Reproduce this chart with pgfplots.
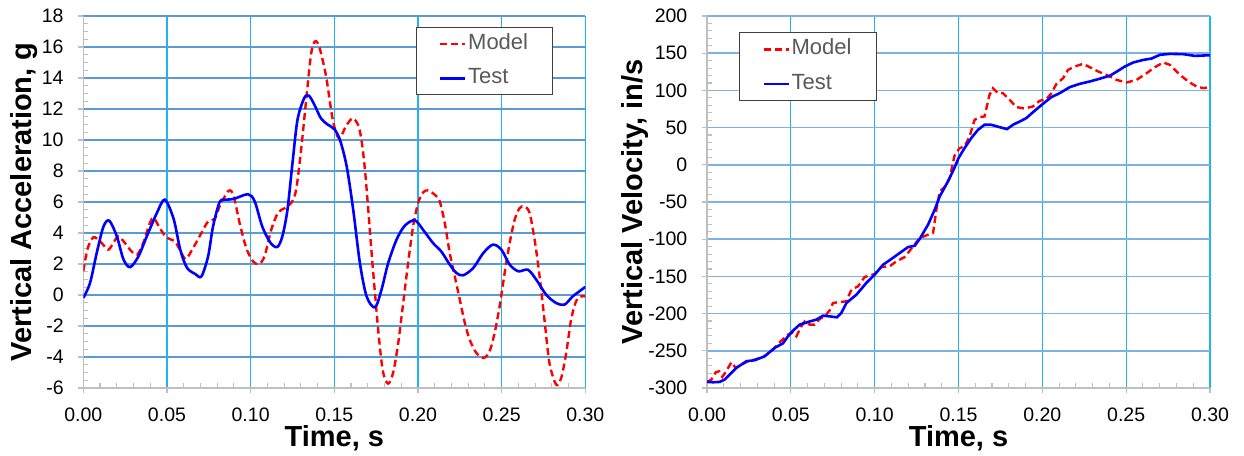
\documentclass[border=0pt]{standalone}
\usepackage{fontspec}
\setmainfont{Liberation Sans}
\usepackage{pgfplots}
\pgfplotsset{compat=1.18}
\definecolor{hgrid}{HTML}{5B9BD5}
\definecolor{hgridR}{HTML}{7EB2E2}
\definecolor{vgrid}{HTML}{1FB4EE}
\definecolor{axgray}{HTML}{BFBFBF}
\definecolor{leggray}{HTML}{595959}
\definecolor{legdark}{HTML}{404040}
\pgfplotsset{
  base/.style={scale only axis, anchor=south west, xmin=0, xmax=0.3,
    xtick={0,0.05,0.1,0.15,0.2,0.25,0.3},
    axis x line*=bottom, axis y line*=left,
    axis line style={draw=axgray, line width=1.3pt, -},
    tick style={draw=axgray, line width=1.1pt}},
  tickaxis/.style={base, tick align=inside, major tick length=5pt, minor tick length=5pt,
    minor x tick num=4, xticklabels={}, yticklabels={}},
  mainaxis/.style={base, grid=major,
    x grid style={vgrid, line width=1.3pt},
    tick align=outside, major tick length=5pt,
    /pgf/number format/assume math mode=true,
    ticklabel style={font=\fontsize{19.5}{23}\selectfont, inner sep=0pt},
    xticklabel style={/pgf/number format/fixed, /pgf/number format/fixed zerofill,
      /pgf/number format/precision=2, yshift=-14.5pt},
    yticklabel style={xshift=-14.5pt},
    xlabel={Time, s},
    xlabel style={font=\fontsize{29}{33}\selectfont\bfseries, at={([yshift=-58.7pt]rel axis cs:0.5,0)}, anchor=base},
    ylabel style={font=\fontsize{29}{33}\selectfont\bfseries, anchor=base},
    legend style={anchor=north west, draw=legdark, line width=0.9pt, fill=white,
      inner xsep=23pt, inner ysep=6.5pt, row sep=14.5pt,
      font=\fontsize{22}{26}\selectfont, text=leggray,
      nodes={inner xsep=1.5pt, inner ysep=0pt, text height=15.5pt, text depth=4.5pt}},
    legend cell align=left,
    legend image code/.code={\draw[##1] (0pt,0pt) -- (25pt,0pt);}},
  redline/.style={red, line width=2.4pt, dash pattern=on 7pt off 4pt},
  blueline/.style={blue, line width=2.6pt}
}
\begin{document}
\begin{tikzpicture}
\useasboundingbox (0,0) rectangle (1244pt,455pt);
% ---------- left: acceleration ----------
\begin{axis}[tickaxis, at={(83.3pt,67pt)}, width=502pt, height=372pt,
  ymin=-6, ymax=18, ytick={-6,-4,...,18}, minor y tick num=3]
\addplot[draw=none] coordinates {(0,0)};
\end{axis}
\begin{axis}[mainaxis, at={(83.3pt,67pt)}, width=502pt, height=372pt,
  ymin=-6, ymax=18, ytick={-6,-4,...,18},
  y grid style={hgrid, line width=1.3pt},
  ylabel={Vertical Acceleration, g},
  ylabel style={at={([xshift=-52pt]rel axis cs:0,0.5)}},
  legend style={at={(rel axis cs:0.662,0.971)}}]
\addplot[redline, smooth, tension=0.5] coordinates {
(0,1.53) (0.0024,2.92) (0.005,3.6) (0.007,3.72) (0.011,3.35) (0.0149,2.92) (0.0179,3.35)
(0.0209,3.78) (0.0249,3.35) (0.0288,2.82) (0.0322,2.6) (0.0358,3.35) (0.0398,4.65)
(0.0421,4.97) (0.0457,4.32) (0.0497,3.72) (0.0547,3.46) (0.0577,2.92) (0.0612,2.32)
(0.0656,3.03) (0.0706,4.0) (0.0746,4.75) (0.0785,4.9) (0.0815,5.72) (0.0869,6.73)
(0.0899,6.37) (0.0934,4.65) (0.0974,3.03) (0.1014,2.17) (0.105,2.0) (0.1083,2.5)
(0.1123,4.2) (0.1163,5.3) (0.1203,5.6) (0.1243,5.94) (0.1272,6.8) (0.1302,9.4)
(0.1332,12.6) (0.1362,15.6) (0.1386,16.37) (0.1412,15.94) (0.1451,14.1) (0.1491,11.3)
(0.1528,10.1) (0.157,10.9) (0.161,11.4) (0.1645,10.9) (0.1665,9.8) (0.1683,8.1)
(0.1703,5.5) (0.1723,2.7) (0.1743,0.13) (0.1768,-2.9) (0.1792,-5.0) (0.1822,-5.72)
(0.1852,-5.0) (0.1882,-3.1) (0.1912,-0.5) (0.1941,2.06) (0.1971,4.43) (0.2001,5.94)
(0.2031,6.62) (0.206,6.75) (0.21,6.47) (0.213,6.04) (0.216,4.65) (0.219,2.7) (0.222,1.2)
(0.225,-0.3) (0.228,-1.8) (0.2309,-2.88) (0.2349,-3.74) (0.2393,-4.06) (0.2428,-3.63)
(0.2458,-2.45) (0.2488,-0.73) (0.2518,1.42) (0.2548,3.35) (0.2578,4.86) (0.2607,5.6)
(0.2637,5.72) (0.2667,5.29) (0.2697,3.57) (0.2727,1.2) (0.2756,-1.6) (0.2786,-4.4)
(0.2826,-5.78) (0.2856,-5.35) (0.2886,-3.74) (0.2915,-1.6) (0.2945,-0.4) (0.2975,-0.09)
(0.300,-0.1)};
\addlegendentry{Model}
\addplot[blueline, smooth, tension=0.5] coordinates {
(0,-0.19) (0.004,0.77) (0.008,2.7) (0.012,4.4) (0.0155,4.8) (0.020,3.8) (0.024,2.3)
(0.028,1.8) (0.033,2.5) (0.038,3.8) (0.044,5.3) (0.0487,6.15) (0.054,4.9) (0.058,2.9)
(0.062,1.75) (0.067,1.35) (0.0706,1.2) (0.0746,2.5) (0.0775,4.4) (0.0815,6.0)
(0.0855,6.15) (0.090,6.2) (0.0984,6.5) (0.1024,6.05) (0.107,4.4) (0.112,3.35)
(0.116,3.1) (0.119,3.8) (0.122,5.5) (0.125,8.5) (0.128,11.3) (0.132,12.7) (0.1348,12.86)
(0.138,12.3) (0.142,11.4) (0.146,11.0) (0.150,10.7) (0.1534,10.0) (0.1574,8.3)
(0.1613,5.5) (0.1653,2.06) (0.1693,-0.09) (0.1743,-0.8) (0.1782,0.34) (0.1822,2.06)
(0.1872,3.57) (0.1921,4.47) (0.1981,4.82) (0.2031,4.2) (0.209,3.35) (0.214,2.8)
(0.219,1.96) (0.223,1.42) (0.227,1.27) (0.233,1.74) (0.239,2.7) (0.2448,3.25)
(0.2499,2.92) (0.2548,1.96) (0.260,1.53) (0.2657,1.63) (0.2707,0.99) (0.2766,0.02)
(0.2826,-0.52) (0.2876,-0.62) (0.2925,-0.09) (0.300,0.52)};
\addlegendentry{Test}
\end{axis}
% ---------- right: velocity ----------
\begin{axis}[tickaxis, at={(707pt,67pt)}, width=503pt, height=372pt,
  ymin=-300, ymax=200, ytick={-300,-250,...,200}, minor y tick num=4]
\addplot[draw=none] coordinates {(0,0)};
\end{axis}
\begin{axis}[mainaxis, at={(707pt,67pt)}, width=503pt, height=372pt,
  ymin=-300, ymax=200, ytick={-300,-250,...,200},
  y grid style={hgridR, line width=1.5pt},
  ylabel={Vertical Velocity, in/s},
  ylabel style={at={([xshift=-65pt]rel axis cs:0,0.5)}},
  legend style={at={(rel axis cs:0.0636,0.956)}}]
\addplot[redline] coordinates {
(0,-291.8) (0.0026,-288.7) (0.0052,-278.9) (0.0072,-277.5) (0.0091,-285) (0.0115,-277.5)
(0.0145,-265.4) (0.0171,-273) (0.0205,-268.6) (0.0245,-264) (0.0284,-261.8) (0.0334,-258.3)
(0.0384,-250.7) (0.0433,-238.6) (0.0483,-228.3) (0.0513,-225.1) (0.0533,-230.5)
(0.0563,-217) (0.0583,-210.4) (0.0612,-214.8) (0.0642,-214.8) (0.0672,-207.2)
(0.0702,-203.7) (0.0732,-195.6) (0.0751,-185.8) (0.0791,-184.4) (0.0831,-183.5)
(0.0861,-167.9) (0.0901,-163.4) (0.094,-150.8) (0.1,-146.8) (0.104,-137.4) (0.1089,-136.5)
(0.1129,-129.8) (0.1179,-124) (0.1229,-109.7) (0.1268,-98.5) (0.1318,-94) (0.1348,-91.8)
(0.1368,-60.4) (0.1388,-35.8) (0.1417,-30) (0.1447,-18) (0.1476,12) (0.1506,22.4)
(0.1536,24.7) (0.1566,38) (0.1596,60.5) (0.1625,64) (0.1655,65) (0.1685,94) (0.1705,103)
(0.1735,96.3) (0.1765,96.3) (0.1805,87.3) (0.1845,77.5) (0.1894,75.7) (0.1944,78.4)
(0.1984,86) (0.2024,88.2) (0.2054,96.3) (0.2084,108.8) (0.2124,116.4) (0.2153,127.6)
(0.2193,132.1) (0.2243,135.7) (0.2283,131.2) (0.2333,125.4) (0.2382,120.9) (0.2442,114.2)
(0.2502,110.6) (0.2562,114.2) (0.2622,123.1) (0.2671,131.2) (0.2721,137.5) (0.2761,134.3)
(0.2821,120.9) (0.287,112) (0.292,105.2) (0.296,103) (0.30,104.3)};
\addlegendentry{Model}
\addplot[blueline] coordinates {
(0,-291.8) (0.0036,-292.3) (0.0076,-291.8) (0.0105,-288.7) (0.0135,-282) (0.0175,-273)
(0.0235,-264) (0.0284,-262.7) (0.0344,-257.4) (0.0404,-246) (0.0453,-240) (0.0483,-230.5)
(0.0513,-222.9) (0.0553,-214.8) (0.0602,-211.3) (0.0652,-208.1) (0.0692,-202.8)
(0.0732,-203.7) (0.0775,-205) (0.0801,-199.2) (0.0831,-185.8) (0.0891,-174.6)
(0.095,-158.9) (0.1,-147.7) (0.105,-134.3) (0.1099,-126.7) (0.1149,-118.6) (0.1199,-110.6)
(0.1239,-108.8) (0.1268,-99.8) (0.1318,-80.6) (0.1358,-60.4) (0.1388,-42.5) (0.1437,-22.4)
(0.1476,-4) (0.15,9) (0.1536,22.4) (0.1576,35.9) (0.1616,47) (0.1655,53.8) (0.1695,53.8)
(0.1745,50.6) (0.1789,48) (0.1825,53.8) (0.1865,58.2) (0.1904,62.7) (0.1954,72.6)
(0.2004,82) (0.2054,91) (0.2104,96.3) (0.2163,104.3) (0.2223,108.8) (0.2283,112)
(0.2333,115.1) (0.2373,117.8) (0.2402,119.6) (0.2442,125) (0.2492,132.1) (0.2542,137.5)
(0.2602,141) (0.2651,142.8) (0.2701,147.8) (0.2761,149.1) (0.2841,148.7) (0.291,146.4)
(0.30,147.3)};
\addlegendentry{Test}
\end{axis}
\end{tikzpicture}
\end{document}
